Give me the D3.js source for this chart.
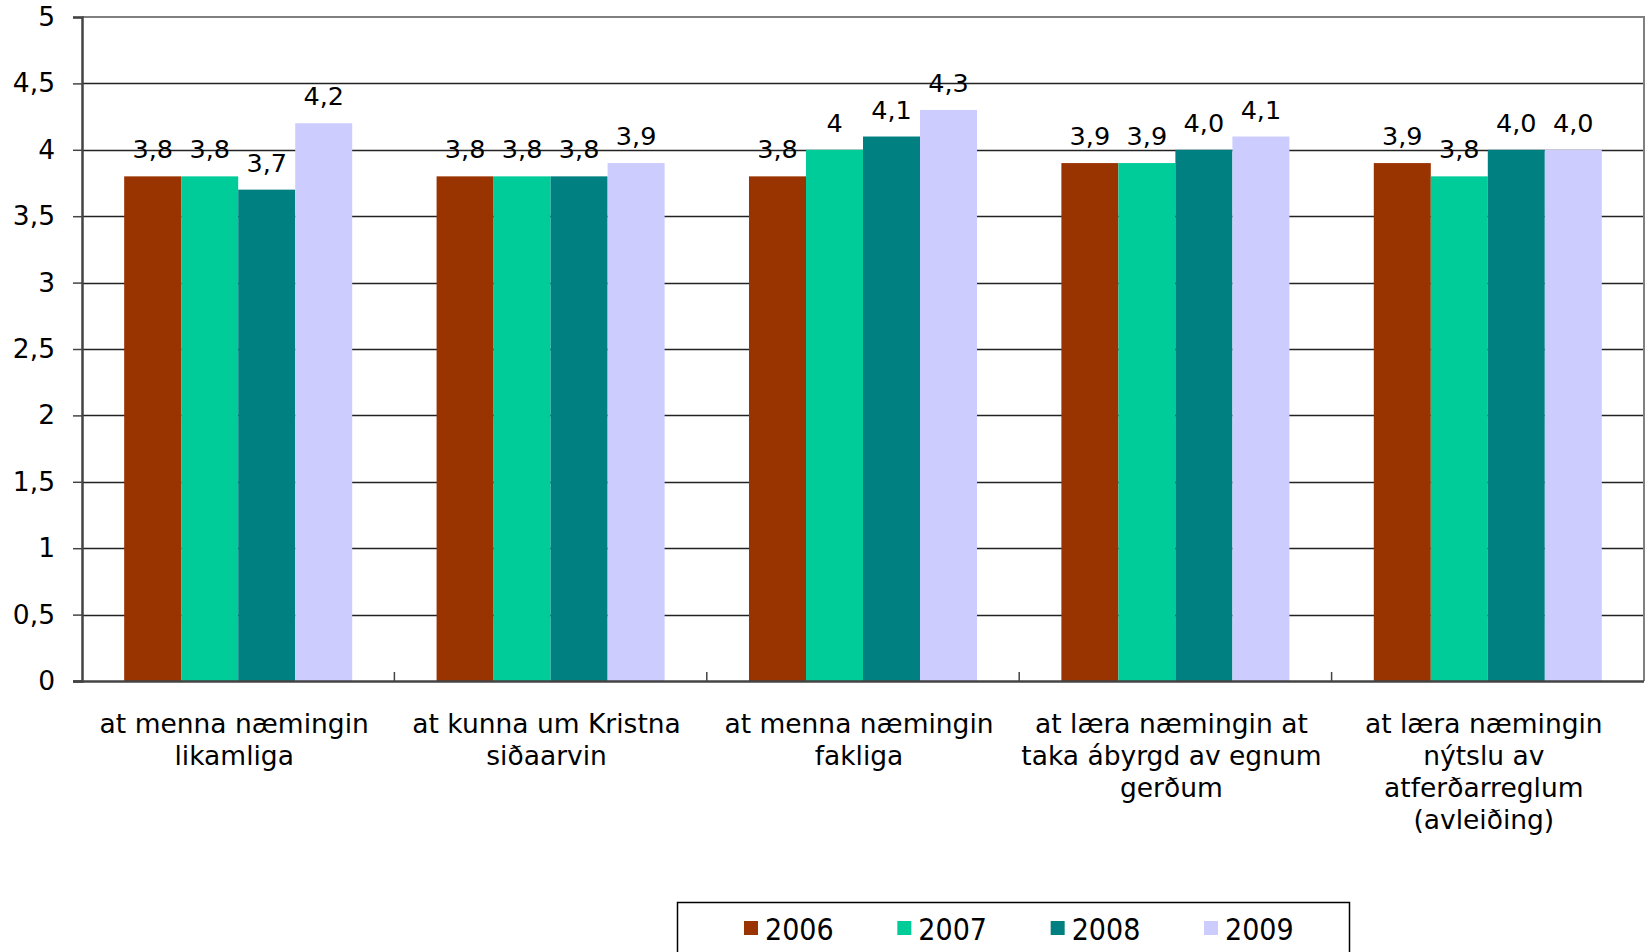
<!DOCTYPE html>
<html>
<head>
<meta charset="utf-8">
<script src="https://cdn.jsdelivr.net/npm/d3@7"></script>
<style>
  html, body { margin: 0; padding: 0; background: #fff; }
  svg text { font-family: "DejaVu Sans", Verdana, sans-serif; fill: #000; }
</style>
</head>
<body>
<div class="chart"></div>
<script>
// categories (split into lines as in the original)
const categories = [
    ["at menna næmingin", "likamliga"],
    ["at kunna um Kristna", "siðaarvin"],
    ["at menna næmingin", "fakliga"],
    ["at læra næmingin at", "taka ábyrgd av egnum", "gerðum"],
    ["at læra næmingin", "nýtslu av", "atferðarreglum", "(avleiðing)"]
];

const years = ["2006", "2007", "2008", "2009"];

// values per year
const values2006 = [3.8, 3.8, 3.8, 3.9, 3.9];
const values2007 = [3.8, 3.8, 4.0, 3.9, 3.8];
const values2008 = [3.7, 3.8, 4.1, 4.0, 4.0];
const values2009 = [4.2, 3.9, 4.3, 4.1, 4.0];

// data labels as printed
const labels2006 = ["3,8", "3,8", "3,8", "3,9", "3,9"];
const labels2007 = ["3,8", "3,8", "4", "3,9", "3,8"];
const labels2008 = ["3,7", "3,8", "4,1", "4,0", "4,0"];
const labels2009 = ["4,2", "3,9", "4,3", "4,1", "4,0"];

const yTicks = [0, 0.5, 1, 1.5, 2, 2.5, 3, 3.5, 4, 4.5, 5];
const yTickLabels = ["0", "0,5", "1", "1,5", "2", "2,5", "3", "3,5", "4", "4,5", "5"];

const colors = ["#993300", "#00cc99", "#008080", "#ccccff"];

const series = [
    { year: years[0], values: values2006, labels: labels2006 },
    { year: years[1], values: values2007, labels: labels2007 },
    { year: years[2], values: values2008, labels: labels2008 },
    { year: years[3], values: values2009, labels: labels2009 }
];

const width = 1648;
const height = 952;
const plotLeft = 82, plotRight = 1644, plotTop = 17, plotBottom = 681;

const svg = d3.select(".chart")
    .append("svg")
    .attr("width", width)
    .attr("height", height);

// scales
const xScale = d3.scaleBand()
    .domain(d3.range(categories.length))
    .range([plotLeft, plotRight])
    .padding(0);

const xInner = d3.scaleBand()
    .domain(years)
    .range([0, xScale.bandwidth()])
    .paddingInner(0)
    .paddingOuter(0.74);

const yScale = d3.scaleLinear()
    .domain([0, 5])
    .range([plotBottom, plotTop]);

const color = d3.scaleOrdinal().domain(years).range(colors);

// gridlines
svg.append("g")
    .selectAll("line")
    .data(yTicks.filter(d => d > 0 && d < 5))
    .enter()
    .append("line")
    .attr("x1", plotLeft)
    .attr("x2", plotRight)
    .attr("y1", d => Math.round(yScale(d)) + 0.5)
    .attr("y2", d => Math.round(yScale(d)) + 0.5)
    .attr("stroke", "#222")
    .attr("stroke-width", 1.3);

// plot frame (top and right)
svg.append("path")
    .attr("d", `M${plotLeft},${plotTop}H${plotRight}V${plotBottom}`)
    .attr("fill", "none")
    .attr("stroke", "#808080")
    .attr("stroke-width", 2);

// bars
const groups = svg.append("g")
    .selectAll("g")
    .data(series)
    .enter()
    .append("g")
    .attr("fill", d => color(d.year));

groups.selectAll("rect")
    .data(d => d.values.map((v, i) => ({ year: d.year, v: v, i: i })))
    .enter()
    .append("rect")
    .attr("x", d => xScale(d.i) + xInner(d.year))
    .attr("y", d => yScale(d.v))
    .attr("width", xInner.bandwidth())
    .attr("height", d => yScale(0) - yScale(d.v));

// data labels
const labelGroups = svg.append("g")
    .selectAll("g")
    .data(series)
    .enter()
    .append("g");

labelGroups.selectAll("text")
    .data(d => d.values.map((v, i) => ({ year: d.year, v: v, i: i, label: d.labels[i] })))
    .enter()
    .append("text")
    .attr("x", d => xScale(d.i) + xInner(d.year) + xInner.bandwidth() / 2)
    .attr("y", d => yScale(d.v) - 18)
    .attr("text-anchor", "middle")
    .style("font-size", "25.5px")
    .text(d => d.label);

// y axis
const yAxis = d3.axisLeft(yScale)
    .tickValues(yTicks)
    .tickFormat((d, i) => yTickLabels[i])
    .tickSize(9)
    .tickPadding(18);

const yAxisG = svg.append("g")
    .attr("transform", `translate(${plotLeft},0)`)
    .call(yAxis);
yAxisG.select(".domain").attr("stroke", "#444").attr("stroke-width", 2.5);
yAxisG.selectAll(".tick line").attr("stroke", "#444").attr("stroke-width", 1.5);
yAxisG.selectAll(".tick text")
    .style("font-size", "26.5px")
    .style("font-family", "'DejaVu Sans', Verdana, sans-serif")
    .attr("fill", "#000");

// x axis line with inner ticks at category boundaries
svg.append("line")
    .attr("x1", plotLeft - 9)
    .attr("x2", plotRight)
    .attr("y1", plotBottom + 0.5)
    .attr("y2", plotBottom + 0.5)
    .attr("stroke", "#444")
    .attr("stroke-width", 2.5);

svg.append("g")
    .selectAll("line")
    .data(d3.range(1, categories.length))
    .enter()
    .append("line")
    .attr("x1", d => xScale(d))
    .attr("x2", d => xScale(d))
    .attr("y1", plotBottom)
    .attr("y2", plotBottom - 9)
    .attr("stroke", "#444")
    .attr("stroke-width", 1.5);

// category labels
const catText = svg.append("g")
    .selectAll("text")
    .data(categories)
    .enter()
    .append("text")
    .attr("text-anchor", "middle")
    .style("font-size", "26.5px");

catText.selectAll("tspan")
    .data((d, i) => d.map((line, j) => ({ line: line, i: i, j: j })))
    .enter()
    .append("tspan")
    .attr("x", d => xScale(d.i) + xScale.bandwidth() / 2 - 4)
    .attr("y", d => plotBottom + 52 + d.j * 32)
    .text(d => d.line);

// legend
const legend = svg.append("g");

legend.append("rect")
    .attr("x", 677.5)
    .attr("y", 902.5)
    .attr("width", 672)
    .attr("height", 80)
    .attr("fill", "#fff")
    .attr("stroke", "#000")
    .attr("stroke-width", 1.5);

const legendX = d3.scalePoint()
    .domain(years)
    .range([744, 1204]);

const items = legend.selectAll("g.item")
    .data(years)
    .enter()
    .append("g")
    .attr("class", "item")
    .attr("transform", d => `translate(${legendX(d)},0)`);

items.append("rect")
    .attr("x", 0)
    .attr("y", 921)
    .attr("width", 14)
    .attr("height", 14)
    .attr("fill", d => color(d));

items.append("text")
    .attr("x", 21)
    .attr("y", 940)
    .style("font-family", "'Liberation Sans Narrow', 'DejaVu Sans Condensed', sans-serif")
    .style("font-size", "30px")
    .text(d => d);
</script>
</body>
</html>
